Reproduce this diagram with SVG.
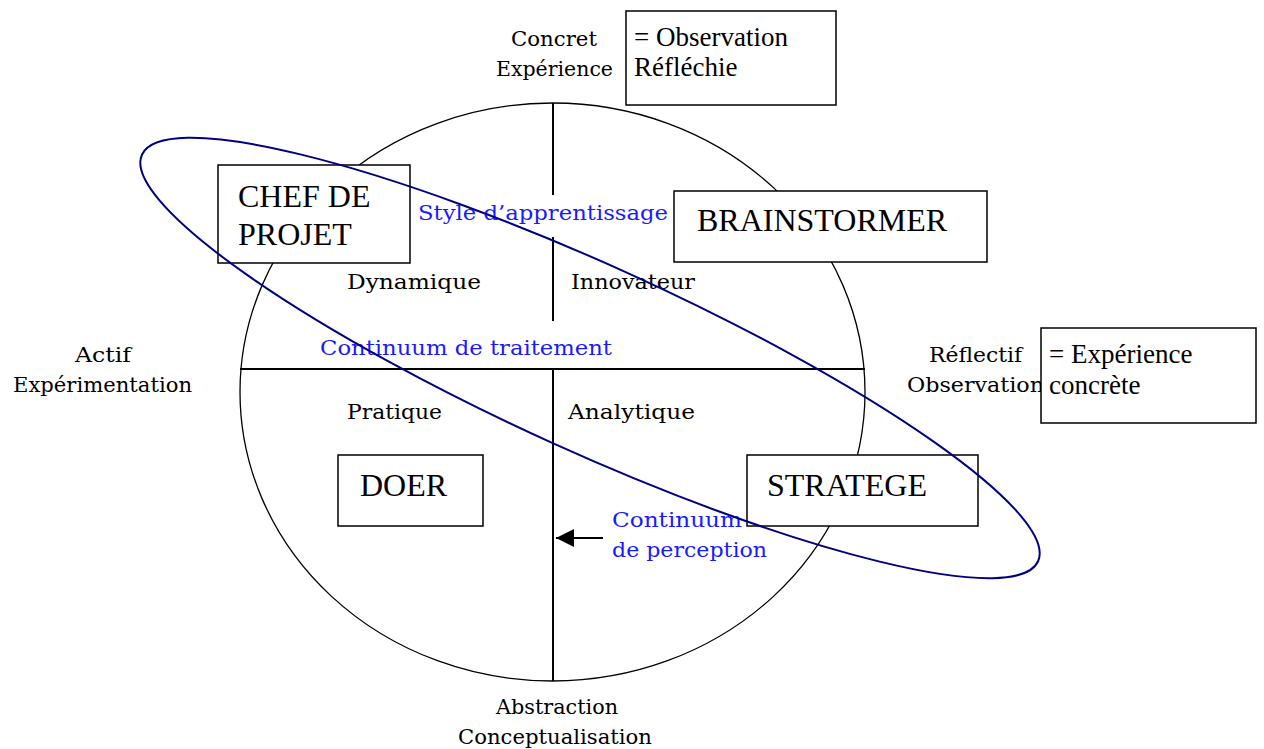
<svg xmlns="http://www.w3.org/2000/svg" width="1264" height="749" viewBox="0 0 1264 749">
<style>
.lbl{font-family:"DejaVu Serif","Liberation Serif",serif;font-size:21px;fill:#000}
.blue{font-family:"DejaVu Serif","Liberation Serif",serif;font-size:21px;fill:#1a1aff}
.box{fill:#fff;stroke:#000;stroke-width:1.5}
.bt{font-family:"Liberation Serif","Times New Roman",serif;font-size:32px;fill:#000}
.st{font-family:"Liberation Serif","Times New Roman",serif;font-size:27px;fill:#000}
.ln{stroke:#000;stroke-width:2;fill:none}
</style>
<defs>
<marker id="ah" viewBox="0 0 10 10" refX="10" refY="5" markerWidth="18" markerHeight="18" markerUnits="userSpaceOnUse" orient="auto">
<path d="M0,0 L10,5 L0,10 z" fill="#000"/>
</marker>
</defs>
<rect width="1264" height="749" fill="#fff"/>
<g id="axes">
<ellipse cx="552.5" cy="392" rx="312.5" ry="289" fill="none" stroke="#000" stroke-width="1.3"/>
<line class="ln" x1="553" y1="103" x2="553" y2="195"/>
<line class="ln" x1="553" y1="237" x2="553" y2="321"/>
<line class="ln" x1="553" y1="369" x2="553" y2="681"/>
<line class="ln" x1="240" y1="369" x2="865" y2="369"/>
</g>
<g id="axis-labels">
<text class="lbl" x="511" y="46" textLength="86" lengthAdjust="spacingAndGlyphs">Concret</text>
<text class="lbl" x="496" y="76" textLength="117" lengthAdjust="spacingAndGlyphs">Expérience</text>
<text class="lbl" x="75" y="362" textLength="56" lengthAdjust="spacingAndGlyphs">Actif</text>
<text class="lbl" x="13" y="392" textLength="179" lengthAdjust="spacingAndGlyphs">Expérimentation</text>
<text class="lbl" x="929" y="362" textLength="93" lengthAdjust="spacingAndGlyphs">Réflectif</text>
<text class="lbl" x="907" y="392" textLength="137" lengthAdjust="spacingAndGlyphs">Observation</text>
<text class="lbl" x="496" y="714" textLength="122" lengthAdjust="spacingAndGlyphs">Abstraction</text>
<text class="lbl" x="458" y="744" textLength="194" lengthAdjust="spacingAndGlyphs">Conceptualisation</text>
<text class="lbl" x="347" y="289" textLength="134" lengthAdjust="spacingAndGlyphs">Dynamique</text>
<text class="lbl" x="571" y="289" textLength="124" lengthAdjust="spacingAndGlyphs">Innovateur</text>
<text class="lbl" x="347" y="419" textLength="95" lengthAdjust="spacingAndGlyphs">Pratique</text>
<text class="lbl" x="568" y="419" textLength="127" lengthAdjust="spacingAndGlyphs">Analytique</text>
<text class="blue" x="418" y="220" textLength="250" lengthAdjust="spacingAndGlyphs">Style d’apprentissage</text>
<text class="blue" x="320" y="355" textLength="292" lengthAdjust="spacingAndGlyphs">Continuum de traitement</text>
<text class="blue" x="612" y="527" textLength="130" lengthAdjust="spacingAndGlyphs">Continuum</text>
<text class="blue" x="612" y="557" textLength="155" lengthAdjust="spacingAndGlyphs">de perception</text>
</g>
<g id="connectors">
<line x1="603" y1="538" x2="556" y2="538" stroke="#000" stroke-width="2" marker-end="url(#ah)"/>
</g>
<g id="note-observation">
<rect class="box" x="626" y="11" width="210" height="94"/>
<text class="st" x="634" y="46">= Observation</text>
<text class="st" x="634" y="76">Réfléchie</text>
</g>
<g id="note-experience">
<rect class="box" x="1041" y="328" width="215" height="95"/>
<text class="st" x="1049" y="363">= Expérience</text>
<text class="st" x="1049" y="394">concrète</text>
</g>
<g id="chef-de-projet">
<rect class="box" x="218" y="165" width="192" height="98"/>
<text class="bt" x="238" y="207">CHEF DE</text>
<text class="bt" x="238" y="245">PROJET</text>
</g>
<g id="brainstormer">
<rect class="box" x="674" y="191" width="313" height="71"/>
<text class="bt" x="697" y="231">BRAINSTORMER</text>
</g>
<g id="doer">
<rect class="box" x="338" y="455" width="145" height="71"/>
<text class="bt" x="360" y="496">DOER</text>
</g>
<g id="stratege">
<rect class="box" x="747" y="455" width="231" height="71"/>
<text class="bt" x="767" y="496">STRATEGE</text>
</g>
<g id="style-ellipse">
<ellipse cx="590" cy="358" rx="492" ry="93" transform="rotate(24.4 590 358)" fill="none" stroke="#000080" stroke-width="2"/>
</g>
</svg>
